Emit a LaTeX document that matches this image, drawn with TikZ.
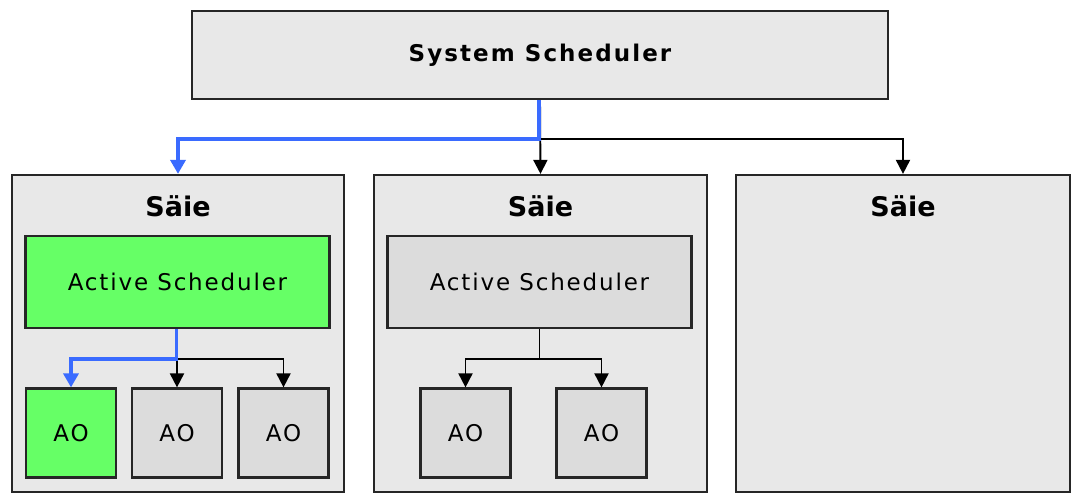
\documentclass[tikz,border=0pt]{standalone}
\usepackage{fontspec}
\setmainfont{DejaVu Sans}
\newfontfamily\boxfont[LetterSpace=8]{DejaVu Sans}
\newfontfamily\headfont[LetterSpace=9]{DejaVu Sans}
\usetikzlibrary{arrows.meta,positioning}

\definecolor{panelgray}{HTML}{E8E8E8}
\definecolor{innergray}{HTML}{DCDCDC}
\definecolor{activegreen}{HTML}{66FF66}
\definecolor{flowblue}{HTML}{3A6BFF}
\definecolor{edgegray}{HTML}{262626}

\begin{document}
\begin{tikzpicture}[x=1pt, y=-1pt,
    panel/.style={draw=edgegray, line width=2.2pt, fill=panelgray, inner sep=0pt},
    sched/.style={draw=edgegray, line width=2.2pt, fill=innergray, inner sep=0pt,
        minimum width=304pt, minimum height=92pt, font=\boxfont\fontsize{23}{26}\selectfont},
    aobox/.style={draw=edgegray, line width=2.2pt, fill=innergray, inner sep=0pt,
        minimum width=90pt, minimum height=89pt, font=\boxfont\fontsize{23}{26}\selectfont},
    active/.style={fill=activegreen},
    title/.style={font=\bfseries\fontsize{27}{30}\selectfont},
    flow/.style={draw=black, line width=1.9pt, -{Triangle[width=14pt,length=14pt]}},
    hotflow/.style={draw=flowblue, line width=3.4pt, -{Triangle[width=15pt,length=14pt]}}]
    \useasboundingbox (0,0) rectangle (1077,494);

    % System scheduler on top
    \node[panel, minimum width=696pt, minimum height=88pt,
        font=\headfont\bfseries\fontsize{23}{26}\selectfont] (sys) at (540,55) {System Scheduler};

    % Threads
    \node[panel, minimum width=332pt, minimum height=317pt] (thread1) at (178,333.5) {};
    \node[panel, minimum width=333pt, minimum height=317pt] (thread2) at (540.5,333.5) {};
    \node[panel, minimum width=334pt, minimum height=317pt] (thread3) at (903,333.5) {};
    \node[title] (title1) at (178,206) {Säie};
    \node[title] (title2) at (540.5,206) {Säie};
    \node[title] (title3) at (903,206) {Säie};

    % Active schedulers
    \node[sched, active] (as1) at (177.5,282) {Active Scheduler};
    \node[sched] (as2) at (539.5,282) {Active Scheduler};

    % Active objects
    \node[aobox, active] (ao11) at (71,433) {AO};
    \node[aobox] (ao12) at (177,433) {AO};
    \node[aobox] (ao13) at (283.5,433) {AO};
    \node[aobox] (ao21) at (465.5,433) {AO};
    \node[aobox] (ao22) at (601.5,433) {AO};

    % System scheduler to threads
    \draw[flow] (sys.south) -- (thread2.north);
    \draw[flow] (sys.south) -- ++(0,39) -| (thread3.north);
    \draw[hotflow] ([xshift=-1pt]sys.south) -- ++(0,39) -| (thread1.north);

    % Active scheduler to its objects
    \draw[flow] (as1.south) -- ++(0,30) -| (ao12.north);
    \draw[flow] (as1.south) -- ++(0,30) -| (ao13.north);
    \draw[hotflow] ([xshift=-1pt]as1.south) -- ++(0,30) -| (ao11.north);
    \draw[flow] (as2.south) -- ++(0,30) -| (ao21.north);
    \draw[flow] (as2.south) -- ++(0,30) -| (ao22.north);
\end{tikzpicture}
\end{document}
